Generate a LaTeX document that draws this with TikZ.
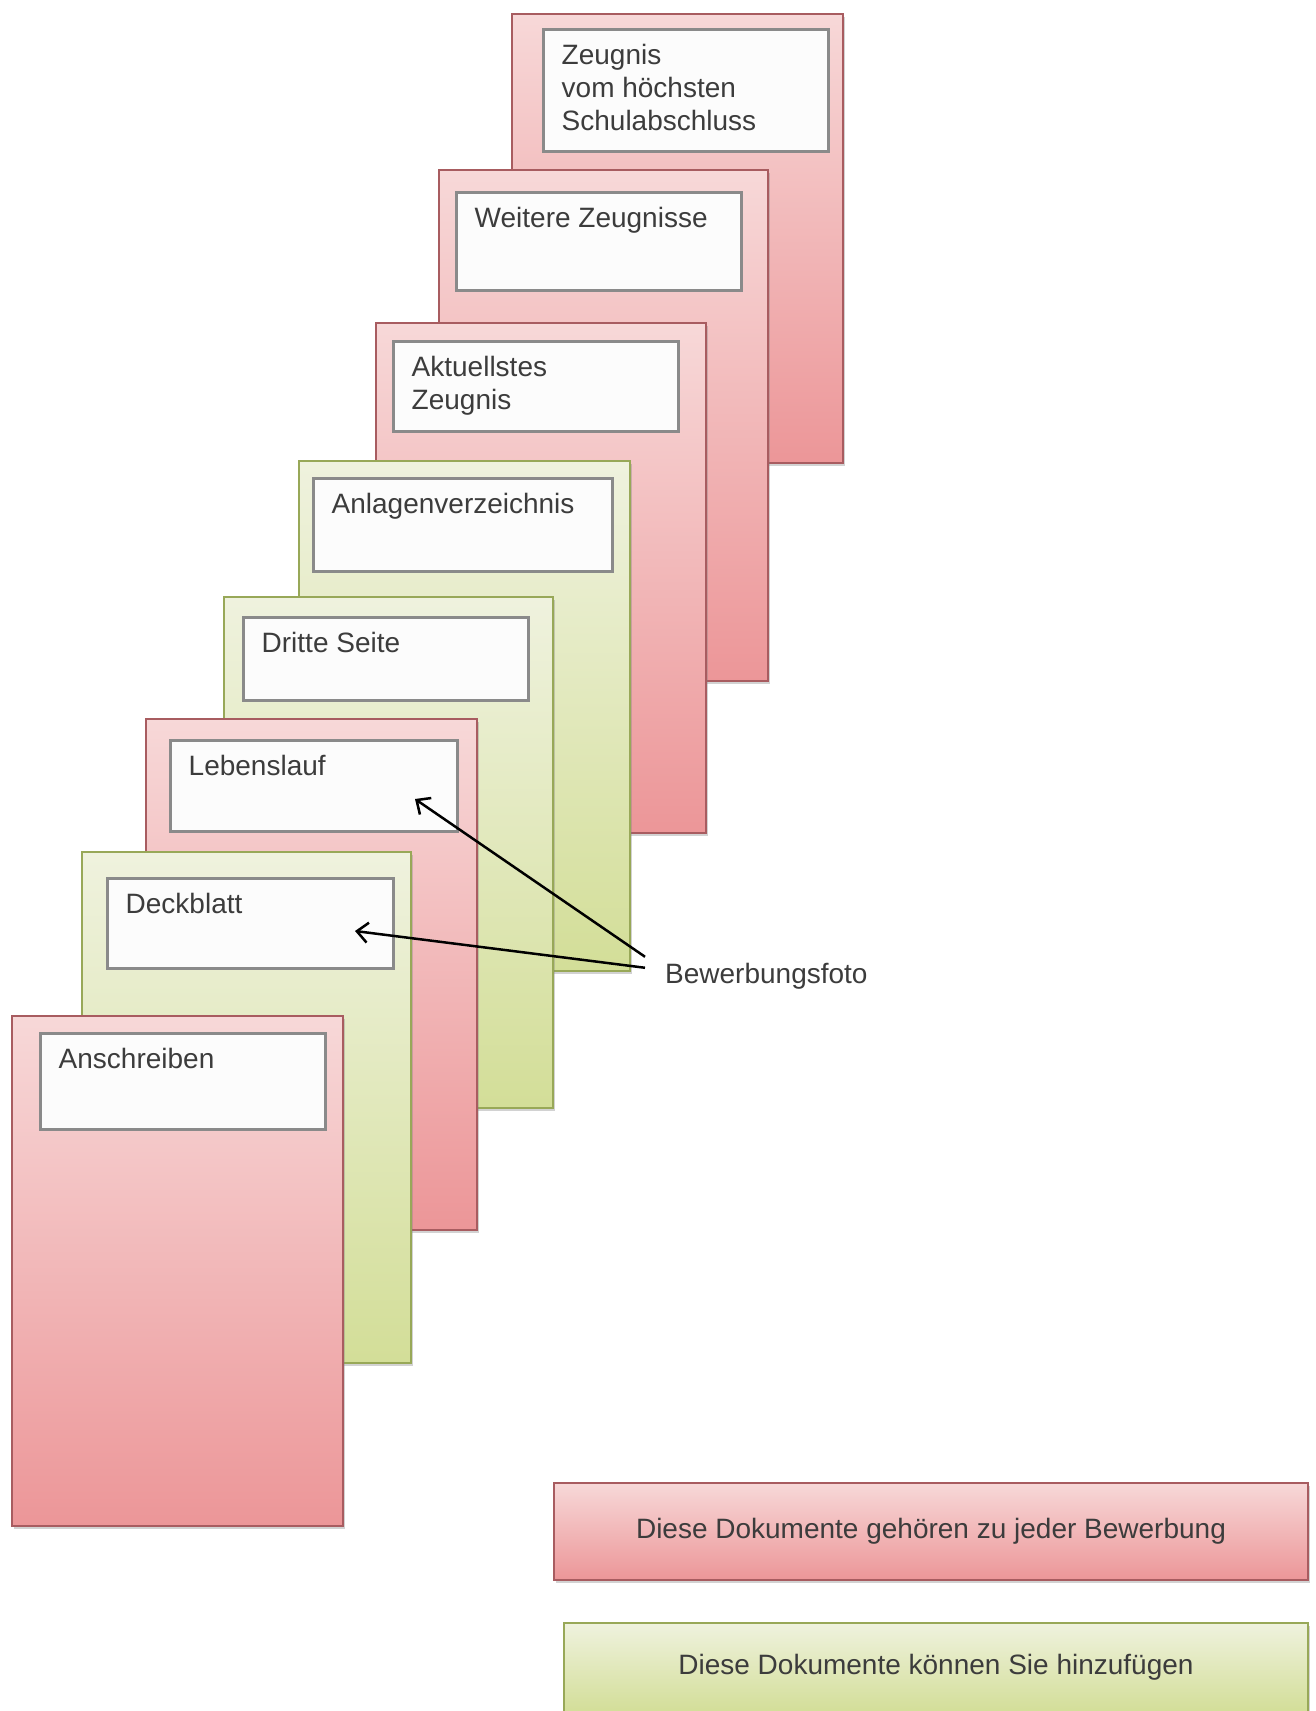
\documentclass[tikz,border=0pt]{standalone}
\usepackage{fontspec}
\setmainfont{Liberation Sans}
\usepackage{xcolor}
\usetikzlibrary{positioning,shadows,arrows.meta}

\definecolor{redtop}{HTML}{F7D8D8}
\definecolor{redbot}{HTML}{EC9698}
\definecolor{redline}{HTML}{A85C60}
\definecolor{greentop}{HTML}{EFF2DE}
\definecolor{greenbot}{HTML}{D3DE98}
\definecolor{greenline}{HTML}{98A858}
\definecolor{boxline}{HTML}{8A8A8A}
\definecolor{inktext}{HTML}{3C3C3C}

\tikzset{
    docpage/.style={rectangle, anchor=north west, inner sep=0pt, line width=2pt,
        top color=#1top, bottom color=#1bot, draw=#1line,
        drop shadow={opacity=0.35, shadow xshift=1.5pt, shadow yshift=-2.5pt}},
    titlebox/.style={rectangle, anchor=north west, inner sep=0pt, line width=2.5pt,
        fill=white!99!black, draw=boxline},
    doctext/.style={inner sep=0pt, align=left, text=inktext,
        font=\fontsize{28pt}{33pt}\selectfont},
    photoarrow/.style={line width=2.5pt, -{Straight Barb[length=11pt,width=20pt]}}
}

\begin{document}
\begin{tikzpicture}[x=1pt,y=-1pt]
    % \draw[help lines] grid (1315,1711);
    \fill[white] (0,0) rectangle (1315,1711);
    \useasboundingbox (0,0) rectangle (1315,1711);

    % Pages, back to front
    \foreach \nm/\col/\px/\py/\pw/\ph/\bx/\by/\bw/\bh/\txt in {
        zeug/red/511/13/331/449/542/28/285/122/{Zeugnis\\vom höchsten\\Schulabschluss},
        weit/red/438/169/329/511/455/191/285/98/{Weitere Zeugnisse},
        akt/red/375/322/330/510/392/340/285/90/{Aktuellstes\\Zeugnis},
        anl/green/298/460/331/510/312/477/299/93/{Anlagenverzeichnis},
        drit/green/223/596/329/511/242/616/285/83/{Dritte Seite},
        leb/red/145/718/331/511/169/739/287/91/{Lebenslauf},
        deck/green/81/851/329/511/106/877/286/90/{Deckblatt},
        ansch/red/11/1015/331/510/39/1032/285/96/{Anschreiben} } {

        \node[docpage=\col, minimum width=\pw pt, minimum height=\ph pt] (pg-\nm) at (\px,\py) {};
        \node[titlebox, minimum width=\bw pt, minimum height=\bh pt] (box-\nm) at (\bx,\by) {};
        \node[doctext, below right=16pt and 19.5pt of box-\nm.north west] (txt-\nm) {\txt};
    }

    % Photo hint
    \node[doctext, anchor=base west, inner xsep=20pt] (foto) at (645,983) {Bewerbungsfoto};
    \coordinate (tip-leb) at (415,799);
    \coordinate (tip-deck) at (355,931);
    \draw[photoarrow] ([yshift=19pt]foto.west) -- (tip-leb);
    \draw[photoarrow] ([yshift=8pt]foto.west) -- (tip-deck);

    % Legend
    \node[docpage=red, doctext, anchor=north west, minimum width=754pt, minimum height=97pt]
        (leg-must) at (553,1482) {Diese Dokumente gehören zu jeder Bewerbung};
    \node[docpage=green, doctext, anchor=north west, minimum width=744pt, minimum height=89pt]
        (leg-opt) at (563,1622) {Diese Dokumente können Sie hinzufügen};

\end{tikzpicture}
\end{document}
